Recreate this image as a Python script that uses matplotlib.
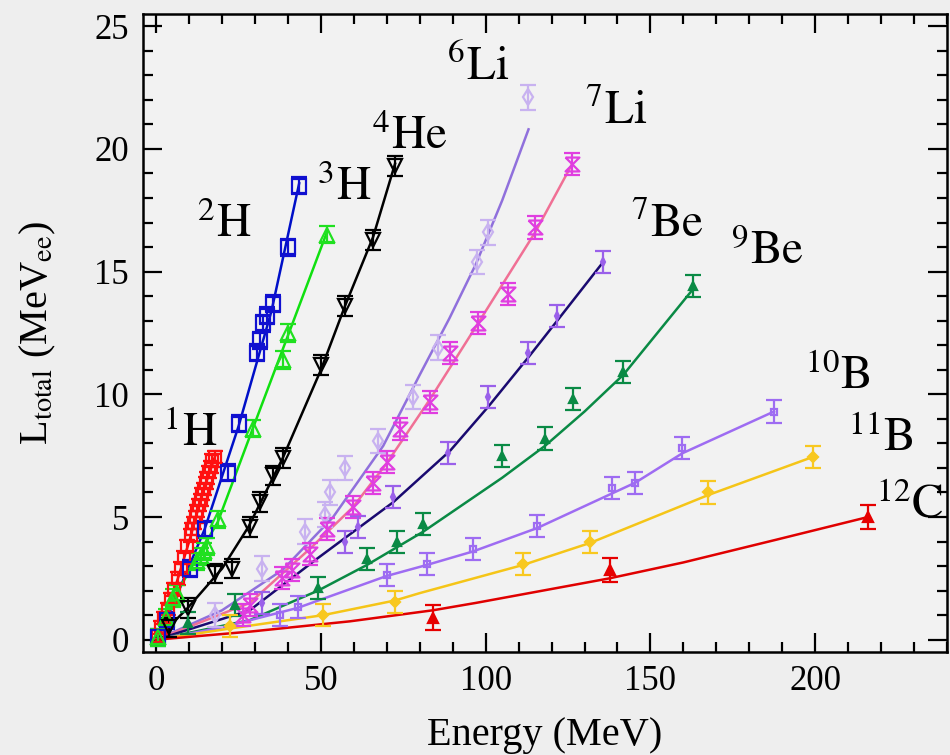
import numpy as np
import matplotlib
matplotlib.use("Agg")
import matplotlib.pyplot as plt
from matplotlib.ticker import MultipleLocator

plt.rcParams['font.family'] = ['Liberation Serif', 'DejaVu Serif']
plt.rcParams['mathtext.fontset'] = 'stix'

# ---- measured points (energy in MeV, light in MeVee) ----
h1_x = [0.5, 1.5, 2.5, 3.5, 4.5, 5.5, 6.5, 7.5, 8.5, 9.5, 10.5, 11.0, 11.5, 12.0,
        12.5, 13.0, 13.5, 14.0, 14.5, 15.0, 15.5, 16.0, 16.5, 17.0, 17.8]
h1_y = [0.15, 0.5, 0.9, 1.25, 1.65, 2.05, 2.5, 2.9, 3.35, 3.8, 4.25, 4.5, 4.75, 5.0,
        5.25, 5.5, 5.7, 5.95, 6.15, 6.4, 6.6, 6.85, 7.05, 7.3, 7.45]
h2_x = [0.5, 3.2, 10.2, 14.7, 21.7, 25.1, 30.6, 31.5, 32.4, 33.6, 35.4, 40.0, 43.4]
h2_y = [0.1, 0.8, 2.9, 4.5, 6.8, 8.8, 11.7, 12.2, 12.9, 13.2, 13.7, 16.0, 18.5]
h3_x = [0.5, 3.0, 5.0, 6.2, 12.5, 13.5, 14.5, 15.5, 18.7, 29.3, 38.5, 40.0, 51.8]
h3_y = [0.1, 0.9, 1.7, 1.9, 3.2, 3.4, 3.6, 3.8, 4.9, 8.6, 11.4, 12.5, 16.5]
he4_x = [4.0, 9.6, 17.8, 23.0, 28.5, 31.5, 35.4, 38.4, 50.0, 57.3, 65.8, 72.5]
he4_y = [0.5, 1.3, 2.7, 2.9, 4.6, 5.6, 6.7, 7.4, 11.2, 13.6, 16.3, 19.3]
li6_x = [17.8, 32.0, 45.2, 51.2, 52.8, 57.3, 67.4, 78.0, 85.4, 97.4, 100.8, 112.9]
li6_y = [1.0, 2.9, 4.4, 5.1, 6.0, 7.0, 8.1, 9.9, 11.9, 15.4, 16.6, 22.1]
li7_x = [26.3, 28.4, 38.1, 41.2, 46.6, 51.8, 59.7, 65.8, 70.0, 74.0, 83.1, 89.2,
         97.7, 106.8, 115.0, 126.3]
li7_y = [1.0, 1.4, 2.5, 2.85, 3.5, 4.5, 5.4, 6.4, 7.25, 8.6, 9.7, 11.7,
         12.9, 14.1, 16.8, 19.4]
be7_x = [32.0, 57.3, 61.3, 71.9, 88.6, 100.8, 112.9, 121.7, 135.7]
be7_y = [1.5, 4.0, 4.6, 5.8, 7.6, 9.9, 11.7, 13.2, 15.4]
be9_x = [9.6, 23.9, 49.1, 64.0, 73.1, 81.0, 105.0, 118.0, 126.6, 141.7, 163.0]
be9_y = [0.7, 1.4, 2.1, 3.3, 4.0, 4.7, 7.5, 8.2, 9.8, 10.9, 14.4]
b10_x = [37.5, 43.0, 70.0, 82.2, 96.2, 115.6, 138.4, 145.4, 159.7, 187.5]
b10_y = [1.0, 1.35, 2.65, 3.1, 3.7, 4.65, 6.2, 6.4, 7.8, 9.3]
b11_x = [22.4, 50.6, 72.5, 111.4, 131.8, 167.6, 199.3]
b11_y = [0.55, 1.0, 1.55, 3.1, 4.0, 6.0, 7.45]
c12_x = [84.1, 137.8, 216.0]
c12_y = [0.9, 2.85, 5.0]

# ---- fit curves ----
h1_fx = [0, 5, 10, 14, 17.8]
h1_fy = [0, 1.8, 4.0, 5.95, 7.45]
h2_fx = [0, 5, 14.7, 25, 35, 43.4]
h2_fy = [0, 1.4, 4.5, 8.7, 13.4, 18.6]
h3_fx = [0, 6.2, 18.7, 29.3, 40, 51.8]
h3_fy = [0, 1.9, 4.8, 8.6, 12.4, 16.6]
he4_fx = [0, 9.6, 20, 28, 38.4, 50, 57.3, 65.8, 72.5]
he4_fy = [0, 1.3, 2.9, 4.6, 7.4, 11.0, 13.6, 16.4, 19.4]
li6_fx = [0, 20, 38.4, 53.7, 68.9, 80, 89, 97, 105, 113]
li6_fy = [0, 1.2, 2.85, 5.0, 7.9, 10.8, 13.1, 15.3, 17.9, 20.8]
li7_fx = [0, 28.4, 46.6, 59.7, 70, 83.1, 97.7, 115, 126.3]
li7_fy = [0, 1.5, 3.7, 5.4, 7.2, 9.8, 12.9, 16.6, 19.4]
be7_fx = [0, 28.4, 48.8, 71.9, 89.2, 100.8, 112.9, 121.7, 135.7]
be7_fy = [0, 1.2, 3.3, 5.6, 7.7, 9.5, 11.5, 13.0, 15.4]
be9_fx = [0, 28.4, 49.1, 64, 81, 93, 105, 118, 130, 141.8, 163]
be9_fy = [0, 0.8, 2.0, 3.05, 4.4, 5.5, 6.6, 7.9, 9.3, 10.8, 14.3]
b10_fx = [0, 20, 43, 70, 82.2, 96.2, 115.6, 145.4, 159.7, 187.5]
b10_fy = [0, 0.5, 1.3, 2.6, 3.05, 3.6, 4.55, 6.4, 7.6, 9.3]
b11_fx = [0, 22, 50.6, 72.5, 80, 111.4, 131.8, 167.6, 199.3]
b11_fy = [0, 0.45, 1.0, 1.6, 1.9, 3.05, 3.95, 5.9, 7.45]
c12_fx = [0, 28.4, 58.8, 84, 97, 137.5, 160, 188, 216]
c12_fy = [0, 0.33, 0.75, 1.2, 1.5, 2.5, 3.15, 4.07, 5.0]

labels = [r'$^{1}\mathrm{H}$', r'$^{2}\mathrm{H}$', r'$^{3}\mathrm{H}$', r'$^{4}\mathrm{He}$',
          r'$^{6}\mathrm{Li}$', r'$^{7}\mathrm{Li}$', r'$^{7}\mathrm{Be}$', r'$^{9}\mathrm{Be}$',
          r'$^{10}\mathrm{B}$', r'$^{11}\mathrm{B}$', r'$^{12}\mathrm{C}$']
label_x = [2.0, 12.5, 48.8, 65.5, 88.3, 130.2, 144.0, 174.3, 197.0, 210.0, 218.4]
label_y = [7.9, 16.4, 17.9, 20.0, 22.8, 21.0, 16.4, 15.3, 10.2, 7.7, 5.0]

hourglass = [(-1, 1), (1, 1), (-1, -1), (1, -1), (-1, 1)]

# (x, y, yerr, marker, marker colour, filled, size, fit x, fit y, line colour)
series = [
    (h1_x, h1_y, 0.25, 's', '#ff1010', False, 8, h1_fx, h1_fy, '#ff0000'),
    (h2_x, h2_y, 0.35, 's', '#1010d0', False, 10, h2_fx, h2_fy, '#0010c8'),
    (h3_x, h3_y, 0.35, '^', '#20e020', False, 10, h3_fx, h3_fy, '#10e010'),
    (he4_x, he4_y, 0.4, 'v', '#000000', False, 10, he4_fx, he4_fy, '#000000'),
    (li6_x, li6_y, 0.5, 'd', '#c8b2f0', False, 8, li6_fx, li6_fy, '#9070dc'),
    (li7_x, li7_y, 0.45, hourglass, '#e03ee0', False, 10, li7_fx, li7_fy, '#f07095'),
    (be7_x, be7_y, 0.45, 'd', '#9a60ea', True, 4, be7_fx, be7_fy, '#1a0a70'),
    (be9_x, be9_y, 0.45, '^', '#0a8a45', True, 6, be9_fx, be9_fy, '#0a8a45'),
    (b10_x, b10_y, 0.45, 's', '#9e6cf2', False, 4, b10_fx, b10_fy, '#9e6cf2'),
    (b11_x, b11_y, 0.45, 'D', '#f8c820', True, 5, b11_fx, b11_fy, '#f5c518'),
    (c12_x, c12_y, 0.5, '^', '#e60000', True, 7, c12_fx, c12_fy, '#e00000'),
]

fig = plt.figure(figsize=(9.5, 7.55), dpi=100, facecolor='#eeeeee')
ax = fig.add_axes([143 / 950, 1 - 652 / 755, (947 - 143) / 950, (652 - 14) / 755])
ax.set_facecolor('#f2f2f2')

for x, y, err, mk, mc, filled, ms, fx, fy, lc in series:
    ax.plot(fx, fy, color=lc, lw=1.8, zorder=2)
    ax.errorbar(x, y, yerr=err, fmt='none', ecolor=mc, elinewidth=1.6,
                capsize=6, capthick=1.6, zorder=3)
    ax.plot(x, y, ls='none', marker=mk, ms=ms, mec=mc, mew=1.6,
            mfc=mc if filled else 'none', zorder=4)

for txt, tx, ty in zip(labels, label_x, label_y):
    ax.text(tx, ty, txt, fontsize=34, ha='left', va='baseline', zorder=5)

ax.set_xlim(-4, 240)
ax.set_ylim(-0.5, 25.5)
ax.xaxis.set_major_locator(MultipleLocator(50))
ax.xaxis.set_minor_locator(MultipleLocator(10))
ax.yaxis.set_major_locator(MultipleLocator(5))
ax.yaxis.set_minor_locator(MultipleLocator(1))
ax.tick_params(which='both', direction='in', top=True, right=True, width=1.6)
ax.tick_params(which='major', length=14, labelsize=25)
ax.tick_params(axis='x', which='major', pad=9)
ax.tick_params(axis='y', which='major', pad=10)
ax.tick_params(which='minor', length=7)
for sp in ax.spines.values():
    sp.set_linewidth(1.8)

ax.set_xlabel('Energy (MeV)', fontsize=29, labelpad=14)
ax.set_ylabel(r'L$_{\mathrm{total}}$ (MeV$_{\mathrm{ee}}$)', fontsize=29, labelpad=26)

fig.savefig('out.png', dpi=100, facecolor=fig.get_facecolor())
